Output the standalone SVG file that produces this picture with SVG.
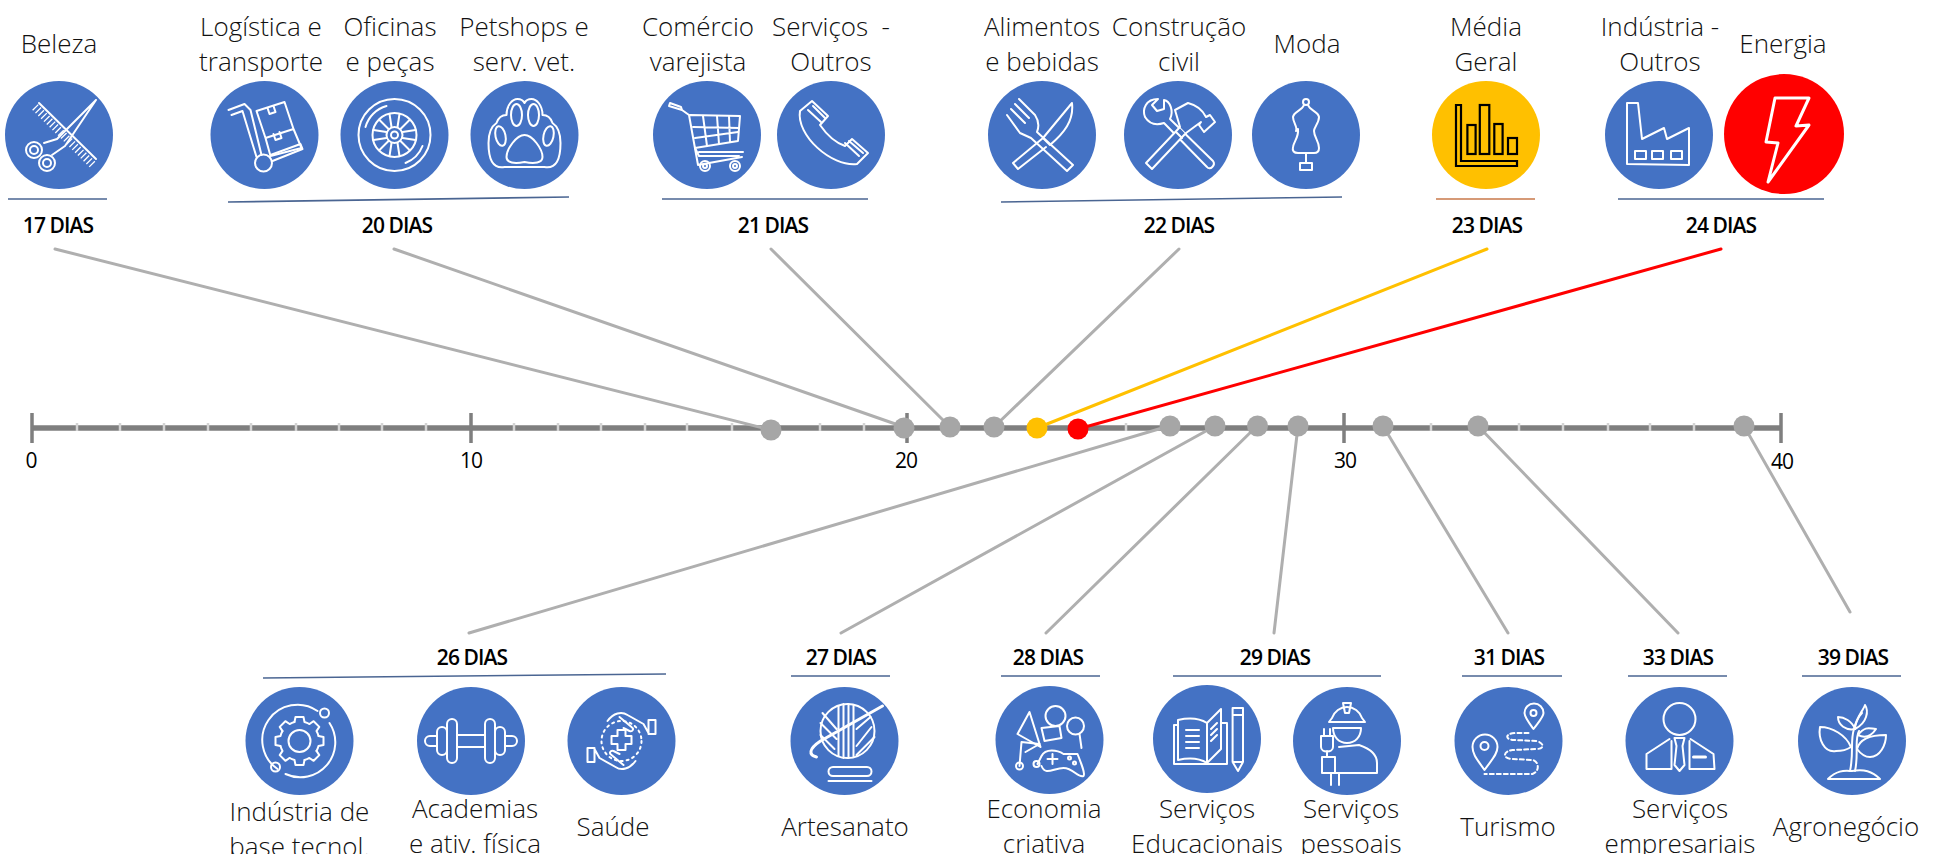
<svg xmlns="http://www.w3.org/2000/svg" width="1933" height="854" viewBox="0 0 1933 854">
<style>
text{font-family:"Open Sans","Noto Sans","Liberation Sans",sans-serif;text-anchor:middle;white-space:pre}
.l{font-size:26px;font-weight:300;fill:#111}
.d{font-size:21px;font-weight:600;fill:#000;letter-spacing:-.9px}
.a{font-size:21px;font-weight:500;fill:#000;letter-spacing:-1px}
.b{fill:#4472c4}
.i{fill:none;stroke:#fff;stroke-width:2;stroke-linejoin:round;stroke-linecap:round}
.u{stroke:#4a6592;stroke-width:1.6;fill:none}
.c{stroke:#afafaf;stroke-width:3;fill:none;stroke-linecap:round}
.dot{fill:#a6a6a6}
.mj{stroke:#7f7f7f;stroke-width:3.5}
.mn{stroke:#d4d4d4;stroke-width:2.5}
</style>
<defs>
<path id="gt" d="M-5,-19 L-4,-24 L4,-24 L5,-19 A19.6,19.6 0 0 1 9.9,-17"/>
</defs>
<rect width="1933" height="854" fill="#fff"/>

<g id="axis">
<line x1="32" y1="428" x2="1781" y2="428" stroke="#7f7f7f" stroke-width="5.5"/>
<path class="mn" d="M77,423V431M120,423V431M164,423V431M208,423V431M251,423V431M296,423V431M339,423V431M382,423V431M426,423V431M514,423V431M558,423V431M601,423V431M645,423V431M687,423V431M732,423V431M820,423V431M864,423V431M1126,423V431M1431,423V431M1519,423V431M1563,423V431M1608,423V431M1650,423V431M1694,423V431"/>
<path class="mj" d="M32,413V443M471,413V443M907,413V443M1344,413V443M1781,413V443"/>
<text class="a" x="31" y="468">0</text>
<text class="a" x="471" y="468">10</text>
<text class="a" x="906" y="468">20</text>
<text class="a" x="1345" y="468">30</text>
<text class="a" x="1782" y="469">40</text>
</g>

<g id="connectors">
<line class="c" x1="55" y1="249" x2="771" y2="430"/>
<line class="c" x1="394" y1="249" x2="904" y2="427"/>
<line class="c" x1="771" y1="249" x2="950" y2="427"/>
<line class="c" x1="1179" y1="249" x2="994" y2="427"/>
<line class="c" x1="1487" y1="249" x2="1037" y2="428" style="stroke:#ffc000"/>
<line class="c" x1="1721" y1="249" x2="1078" y2="429" style="stroke:#ff0000"/>
<line class="c" x1="469" y1="633" x2="1169" y2="426"/>
<line class="c" x1="841" y1="633" x2="1215" y2="426"/>
<line class="c" x1="1046" y1="633" x2="1257" y2="426"/>
<line class="c" x1="1274" y1="633" x2="1298" y2="426"/>
<line class="c" x1="1508" y1="633" x2="1383" y2="426"/>
<line class="c" x1="1678" y1="633" x2="1478" y2="426"/>
<line class="c" x1="1850" y1="612" x2="1744" y2="426"/>
</g>

<g id="points">
<circle class="dot" cx="771" cy="430" r="10.5"/>
<circle class="dot" cx="904" cy="428" r="10.5"/>
<circle class="dot" cx="950" cy="427" r="10.5"/>
<circle class="dot" cx="994" cy="427" r="10.5"/>
<circle cx="1037" cy="428" r="10.5" fill="#ffc000"/>
<circle cx="1078" cy="429" r="10.5" fill="#ff0000"/>
<circle class="dot" cx="1170" cy="426" r="10.5"/>
<circle class="dot" cx="1215" cy="426" r="10.5"/>
<circle class="dot" cx="1257.500" cy="426" r="10.5"/>
<circle class="dot" cx="1298" cy="426" r="10.5"/>
<circle class="dot" cx="1383" cy="426" r="10.5"/>
<circle class="dot" cx="1478" cy="426" r="10.5"/>
<circle class="dot" cx="1744" cy="426" r="10.5"/>
</g>

<g id="group-17">
<line class="u" x1="8" y1="199" x2="107" y2="199"/>
<text class="d" x="58" y="233">17 DIAS</text>
</g>
<g id="group-20">
<line class="u" x1="228" y1="202" x2="569" y2="197"/>
<text class="d" x="397" y="233">20 DIAS</text>
</g>
<g id="group-21">
<line class="u" x1="662" y1="199" x2="868" y2="199"/>
<text class="d" x="773" y="233">21 DIAS</text>
</g>
<g id="group-22">
<line class="u" x1="1001" y1="202" x2="1342" y2="197"/>
<text class="d" x="1179" y="233">22 DIAS</text>
</g>
<g id="group-23">
<line class="u" x1="1436" y1="199" x2="1535" y2="199" style="stroke:#c8784a"/>
<text class="d" x="1487" y="233">23 DIAS</text>
</g>
<g id="group-24">
<line class="u" x1="1618" y1="199" x2="1824" y2="199"/>
<text class="d" x="1721" y="233">24 DIAS</text>
</g>
<g id="group-26">
<line class="u" x1="263" y1="678" x2="666" y2="674"/>
<text class="d" x="472" y="665">26 DIAS</text>
</g>
<g id="group-27">
<line class="u" x1="791" y1="676" x2="890" y2="676"/>
<text class="d" x="841" y="665">27 DIAS</text>
</g>
<g id="group-28">
<line class="u" x1="1001" y1="676" x2="1100" y2="676"/>
<text class="d" x="1048" y="665">28 DIAS</text>
</g>
<g id="group-29">
<line class="u" x1="1173" y1="676" x2="1381" y2="676"/>
<text class="d" x="1275" y="665">29 DIAS</text>
</g>
<g id="group-31">
<line class="u" x1="1462" y1="676" x2="1562" y2="676"/>
<text class="d" x="1509" y="665">31 DIAS</text>
</g>
<g id="group-33">
<line class="u" x1="1628" y1="676" x2="1727" y2="676"/>
<text class="d" x="1678" y="665">33 DIAS</text>
</g>
<g id="group-39">
<line class="u" x1="1802" y1="676" x2="1901" y2="676"/>
<text class="d" x="1853" y="665">39 DIAS</text>
</g>

<g id="node-beleza">
<text class="l" x="59" y="53">Beleza</text>
<g transform="translate(59,135)"><circle class="b" r="54"/><g class="i">
<path d="M-20,-32L37,24"/><path d="M-24,-28L34,30" style="stroke-width:8;stroke-linecap:butt;stroke-dasharray:1.300 2.700"/>
<path d="M37,-35L-2,4L-15,8M37,-35L6,11L-7,20"/>
<circle cx="-25" cy="15" r="8"/><circle cx="-25" cy="15" r="4"/><circle cx="-12" cy="28" r="8"/><circle cx="-12" cy="28" r="4"/>
</g></g>
</g>
<g id="node-logistica">
<text class="l" x="261" y="36">Logística e</text><text class="l" x="261" y="71">transporte</text>
<g transform="translate(264.500,135)"><circle class="b" r="54"/><g class="i">
<path d="M-36,-25L-20,-31L-14,-25L-3,20M-33,-20L-22,-24L-8,22"/>
<circle cx="-1" cy="28" r="8.500"/><path d="M8,26L38,14L36,9L6,20"/>
<path d="M-8,-24L20,-33L29,-6L1,3ZM1,3L29,-6L37,13L6,21Z"/>
<path d="M3,-27L5,-21L11,-23L9,-29M9,-1L11,5L17,3L15,-3"/>
</g></g>
</g>
<g id="node-oficinas">
<text class="l" x="390" y="36">Oficinas</text><text class="l" x="390" y="71">e peças</text>
<g transform="translate(394.500,135)"><circle class="b" r="54"/><g class="i">
<circle r="36"/><path d="M-8,-29A30,30 0 0 0 -29,-8M28,11A30,30 0 0 1 11,28"/>
<circle r="22"/><circle r="8"/><circle r="3.500"/>
<path d="M-3,-8L-5,-21M3,-8L5,-21M8,-3L21,-5M8,3L21,5M3,8L5,21M-3,8L-5,21M-8,3L-21,5M-8,-3L-21,-5M-6,-6L-15,-15M6,-6L15,-15M6,6L15,15M-6,6L-15,15"/>
</g></g>
</g>
<g id="node-petshops">
<text class="l" x="524" y="36">Petshops e</text><text class="l" x="524" y="71">serv. vet.</text>
<g transform="translate(524.500,135)"><circle class="b" r="54"/><g class="i">
<path d="M-28,-12C-34,-8 -36,-2 -36,8C-36,24 -32,34 -20,32L20,32C32,34 36,24 36,8C36,-2 34,-8 28,-12C26,-18 22,-20 18,-20C18,-30 12,-36 7,-36C3,-36 1,-34 0,-32C-1,-34 -3,-36 -7,-36C-12,-36 -18,-30 -18,-20C-22,-20 -26,-18 -28,-12Z"/>
<ellipse cx="-8" cy="-20" rx="5.500" ry="11"/><ellipse cx="9" cy="-20" rx="5.500" ry="11"/>
<ellipse cx="-24" cy="1" rx="5" ry="10" transform="rotate(-12 -24 1)"/><ellipse cx="24" cy="1" rx="5" ry="10" transform="rotate(12 24 1)"/>
<path d="M0,0C-8,0 -18,14 -18,22C-18,28 -10,29 0,27C10,29 18,28 18,22C18,14 8,0 0,0Z"/>
</g></g>
</g>
<g id="node-comercio">
<text class="l" x="698" y="36">Comércio</text><text class="l" x="698" y="71">varejista</text>
<g transform="translate(707,135)"><circle class="b" r="54"/><g class="i">
<path d="M-38,-29L-25,-25L-26,-28L-37,-32ZM-25,-25L-18,-20L-9,30L35,22M-17,-20L33,-19L31,6L-12,13"/>
<path d="M-14,-8L32,-7M-12,3L31,-3M-4,-19L0,11M10,-19L12,9M22,-19L23,7"/>
<path d="M-8,17L36,17M-12,13L-8,21L32,21"/>
<circle cx="-2" cy="31" r="5"/><circle cx="28" cy="31" r="5"/><circle cx="-2" cy="31" r="2"/><circle cx="28" cy="31" r="2"/>
</g></g>
</g>
<g id="node-servicos-outros">
<text class="l" x="831" y="36">Serviços  -</text><text class="l" x="831" y="71">Outros</text>
<g transform="translate(831,135)"><circle class="b" r="54"/><g class="i">
<path d="M-31,-24L-19,-34L-3,-19L-11,-10Q0,6 14,11L21,4L37,18L26,29C0,32 -35,0 -31,-24Z"/>
<path d="M-23,-25L-10,-13M-18,-29L-6,-17M14,8L28,21M18,6L32,18"/>
</g></g>
</g>
<g id="node-alimentos">
<text class="l" x="1042" y="36">Alimentos</text><text class="l" x="1042" y="71">e bebidas</text>
<g transform="translate(1042,135)"><circle class="b" r="54"/><g class="i">
<path d="M30,-32C32,-14 22,-2 8,10L1,3ZM1,3L-29,28L-24,34L4,12"/>
<path d="M-5,-3L31,30L25,36L-11,3L-22,-2L-35,-20M-23,-36L-7,-20C-3,-14 -3,-8 -5,-3M-31,-26L-17,-12M-27,-31L-13,-17"/>
</g></g>
</g>
<g id="node-construcao">
<text class="l" x="1179" y="36">Construção</text><text class="l" x="1179" y="71">civil</text>
<g transform="translate(1178,135)"><circle class="b" r="54"/><g class="i">
<path d="M-20,-36C-32,-36 -36,-26 -33,-18C-28,-10 -20,-10 -14,-12L29,32C32,36 38,30 35,26L-8,-16C-4,-24 -8,-34 -14,-35L-14,-26L-21,-24L-26,-30Z"/>
<path d="M-32,28L2,-8L8,-2L-26,34Z" fill="#4472c4"/>
<path d="M-2,-3L4,3M2,-8L-3,-25L10,-32C18,-30 24,-26 28,-18L32,-20L37,-13L26,-3L21,-10L23,-13L8,-2" fill="#4472c4"/>
</g></g>
</g>
<g id="node-moda">
<text class="l" x="1307" y="53">Moda</text>
<g transform="translate(1306,135)"><circle class="b" r="54"/><g class="i">
<circle cx="0" cy="-33" r="3"/>
<path d="M-2,-30C-4,-24 -12,-24 -13,-18C-13,-12 -8,-8 -10,-4M2,-30C4,-24 12,-24 13,-18C13,-12 8,-8 8,-4C8,2 13,6 13,13C13,17 11,18 8,18L-8,18C-12,18 -14,16 -13,12C-12,6 -7,2 -8,-6"/>
<path d="M0,18L0,28M-6,28L6,28L6,35L-6,35Z"/>
</g></g>
</g>
<g id="node-media">
<text class="l" x="1486" y="36">Média</text><text class="l" x="1486" y="71">Geral</text>
<g transform="translate(1486,135)"><circle r="54" fill="#ffc000"/>
<g fill="none" stroke="#000" stroke-width="2.200">
<path d="M-30,-30L-25,-30L-25,26L31,26L31,31L-30,31Z"/>
<rect x="-18.600" y="-10" width="8.200" height="29"/><rect x="-6.200" y="-30" width="9.500" height="49"/><rect x="8.300" y="-11" width="8.300" height="30"/><rect x="22" y="3" width="9" height="16"/>
</g></g>
</g>
<g id="node-industria">
<text class="l" x="1660" y="36">Indústria -</text><text class="l" x="1660" y="71">Outros</text>
<g transform="translate(1659,135)"><circle class="b" r="54"/><g class="i">
<path d="M-32,29L-32,-32L-21,-32L-17,4L5,-7L8,4L30,-7L30,30Z"/>
<rect x="-24" y="16" width="11" height="8"/><rect x="-7" y="16" width="11" height="8"/><rect x="12" y="16" width="11" height="8"/>
</g></g>
</g>
<g id="node-energia">
<text class="l" x="1783" y="53">Energia</text>
<g transform="translate(1784,134)"><circle r="60" fill="#ff0000"/>
<path class="i" style="stroke-width:3" d="M-9,-36L25,-36L12,-8L25,-9L-16,48L-6,9L-18,8Z"/>
</g>
</g>

<g id="node-tecnol">
<text class="l" x="299.500" y="821">Indústria de</text><text class="l" x="299.500" y="856">base tecnol.</text>
<g transform="translate(299.500,741)"><circle class="b" r="54"/><g class="i">
<path d="M18,-30A35,35 0 0 0 -22,28M-14,33A35,35 0 0 0 30,-18"/>
<circle cx="25" cy="-28" r="4.500"/><circle cx="-24" cy="26" r="4.500"/>
<circle r="11"/>
<use href="#gt"/><use href="#gt" transform="rotate(45)"/><use href="#gt" transform="rotate(90)"/><use href="#gt" transform="rotate(135)"/><use href="#gt" transform="rotate(180)"/><use href="#gt" transform="rotate(225)"/><use href="#gt" transform="rotate(270)"/><use href="#gt" transform="rotate(315)"/>
</g></g>
</g>
<g id="node-academias">
<text class="l" x="475" y="818">Academias</text><text class="l" x="475" y="853">e ativ. física</text>
<g transform="translate(471,741)"><circle class="b" r="54"/><g class="i">
<rect x="-24" y="-22" width="10" height="44" rx="5"/><rect x="14" y="-22" width="10" height="44" rx="5"/>
<path d="M-14,-6L14,-6M-14,6L14,6"/>
<rect x="-34" y="-14" width="10" height="28" rx="5"/><rect x="24" y="-14" width="10" height="28" rx="5"/>
<path d="M-34,-5L-41,-5A5,5 0 0 0 -41,5L-34,5M34,-5L41,-5A5,5 0 0 1 41,5L34,5"/>
</g></g>
</g>
<g id="node-saude">
<text class="l" x="613" y="836">Saúde</text>
<g transform="translate(621.500,741)"><circle class="b" r="54"/><g class="i">
<path d="M-4,-11L4,-11L4,-5L10,-5L10,3L4,3L4,9L-4,9L-4,3L-10,3L-10,-5L-4,-5Z"/>
<circle r="20" stroke-dasharray="2 4"/>
<path d="M-14,-20C-8,-28 0,-30 6,-26L22,-17L27,-8M-2,-24L10,-14C13,-12 11,-9 8,-10L2,-13M27,-21L34,-21L34,-7L27,-7Z"/>
<path transform="rotate(180)" d="M-14,-20C-8,-28 0,-30 6,-26L22,-17L27,-8M-2,-24L10,-14C13,-12 11,-9 8,-10L2,-13M27,-21L34,-21L34,-7L27,-7Z"/>
</g></g>
</g>
<g id="node-artesanato">
<text class="l" x="845" y="836">Artesanato</text>
<g transform="translate(844.500,741)"><circle class="b" r="54"/><g class="i">
<circle cx="3" cy="-10" r="27"/>
<path d="M-6,-35L-6,15M-1,-37L-1,17M4,-37L4,17M9,-36L9,16M-22,-28L-8,-12M-24,-18L-8,-2M-24,-6L-10,8M12,5L27,-14M12,14L30,-4M12,-12L26,-24"/>
<path d="M38,-35L-24,0C-36,8 -36,14 -28,16" style="stroke-width:3"/>
<rect x="-16" y="26" width="43" height="9" rx="4.500"/><path d="M27,40L-16,40"/>
</g></g>
</g>
<g id="node-economia">
<text class="l" x="1044" y="818">Economia</text><text class="l" x="1044" y="853">criativa</text>
<g transform="translate(1049.500,740)"><circle class="b" r="54"/><g class="i">
<path d="M-20,-28L-32,-6L-9,7Z"/>
<circle cx="6" cy="-24" r="10"/><circle cx="26" cy="-14" r="8.500"/>
<path d="M-8,-12L10,-14L12,-2L-5,1Z"/>
<path d="M-30,26L-28,2L-10,4L-24,12"/><circle cx="-30" cy="26" r="3.500"/>
<path d="M-12,24L-8,16C-4,8 8,10 14,14L28,14C32,24 36,34 34,36C28,38 24,28 14,28C4,28 -4,36 -8,26"/><circle cx="-13" cy="24" r="3"/>
<path d="M-2,19L8,19M3,14L3,24"/><circle cx="20" cy="18" r="1.500"/><circle cx="25" cy="23" r="1.500"/>
<path d="M30,-6L32,8"/>
</g></g>
</g>
<g id="node-educacionais">
<text class="l" x="1207" y="818">Serviços</text><text class="l" x="1207" y="853">Educacionais</text>
<g transform="translate(1207,739)"><circle class="b" r="54"/><g class="i">
<path d="M0,-16C-8,-21 -20,-21 -29,-19L-29,21C-20,19 -8,19 0,24ZM0,24L0,-16L14,-30L14,10L0,24"/>
<path d="M14,-16L20,-16L20,25L-33,25L-33,-14L-29,-14M-21,-9L-8,-9M-21,-3L-8,-3M-21,3L-8,3M-21,9L-8,9M4,-10L10,-16M4,-4L10,-10M4,2L10,-4"/>
<path d="M25.600,-31L36,-31L36,23L31,32L25.600,23ZM25.600,-24L36,-24M25.600,23L36,23"/>
</g></g>
</g>
<g id="node-pessoais">
<text class="l" x="1351" y="818">Serviços</text><text class="l" x="1351" y="853">pessoais</text>
<g transform="translate(1347,741)"><circle class="b" r="54"/><g class="i">
<path d="M-15,-23A16,17 0 0 1 15,-23L18,-19L-18,-19Z"/><path d="M-4,-38L4,-38L2,-28L-2,-28Z"/>
<path d="M-14,-13L14,-13C14,-4 8,2 0,2C-8,2 -14,-4 -14,-13Z"/>
<path d="M-8,6L12,4C24,8 30,14 30,22L30,32L-12,32L-12,16L-25,16L-25,32L-8,32"/>
<path d="M-26,-5L-26,6C-26,12 -14,12 -14,6L-14,-5ZM-23,-5L-23,-12M-17,-5L-17,-12M-20,10L-20,16M-16,32L-16,44M-8,32L-8,44"/>
</g></g>
</g>
<g id="node-turismo">
<text class="l" x="1508" y="836">Turismo</text>
<g transform="translate(1508.500,741)"><circle class="b" r="54"/><g class="i">
<path d="M-24,29C-30,20 -36,14 -36,6A12.500,12.500 0 0 1 -11,6C-11,14 -18,20 -24,29Z"/><circle cx="-24" cy="5" r="4"/>
<path d="M25,-12C20,-19 16,-24 16,-28A9.500,9.500 0 0 1 35,-28C35,-24 30,-19 25,-12Z"/><circle cx="25" cy="-28" r="3"/>
<path d="M20,-8L8,-8C-4,-8 -4,-1 6,-1L28,0C36,2 36,8 28,8L4,9C-6,10 -6,18 4,18L24,19C30,20 32,30 24,33L-24,33" stroke-dasharray="4 3"/>
</g></g>
</g>
<g id="node-empresariais">
<text class="l" x="1680" y="818">Serviços</text><text class="l" x="1680" y="853">empresariais</text>
<g transform="translate(1679.500,741)"><circle class="b" r="54"/><g class="i">
<circle cy="-22" r="16"/>
<path d="M-10,-2L-33,13L-33,28L-8,28L-8,0M11,-2L34,13L35,28L10,28L10,0"/>
<path d="M-5,-3L5,-3L3,5L5,24L0,30L-5,24L-3,5Z"/><path d="M14,16L26,16" style="stroke-width:3"/>
</g></g>
</g>
<g id="node-agro">
<text class="l" x="1846" y="836">Agronegócio</text>
<g transform="translate(1852,741)"><circle class="b" r="54"/><g class="i">
<path d="M-2,30C2,12 -2,0 2,-12C4,-20 6,-24 10,-28M3,30C7,12 2,0 7,-10"/>
<path d="M-1,6C-6,-6 -20,-14 -32,-14C-34,-2 -28,12 -16,10C-10,10 -4,8 -1,6Z"/>
<path d="M5,8C8,-4 22,-6 34,-6C34,4 28,16 18,16C12,16 8,12 5,8Z"/>
<path d="M3,-12C0,-20 -8,-24 -14,-24C-14,-16 -6,-10 3,-12Z"/>
<path d="M6,-16C6,-26 14,-34 16,-40C20,-34 18,-22 6,-16Z" transform="translate(-3,4)"/>
<path d="M6,-6C14,-16 18,-12 24,-12C20,-6 14,-2 6,-6Z"/>
<path d="M-24,38C-14,28 -6,30 0,30C12,28 20,30 28,38Z"/>
</g></g>
</g>
</svg>
